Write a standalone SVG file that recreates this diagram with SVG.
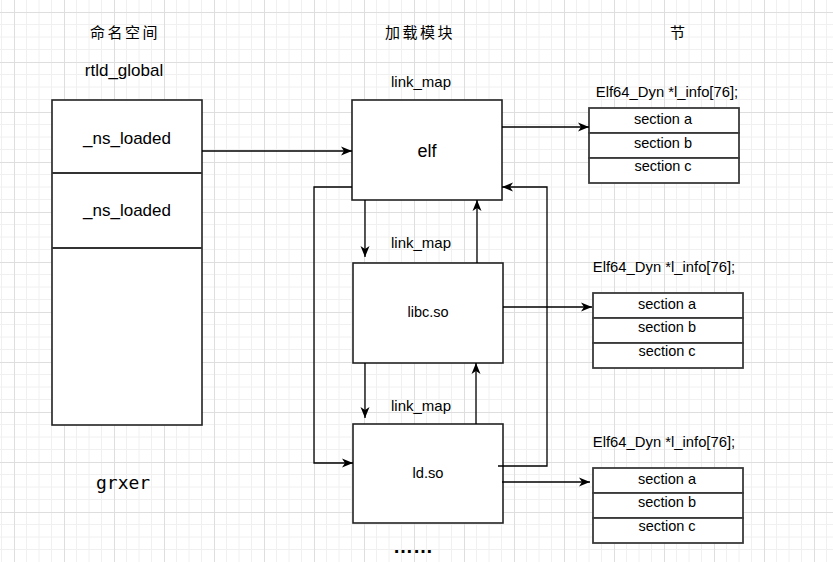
<svg xmlns="http://www.w3.org/2000/svg" width="833" height="562" viewBox="0 0 833 562">
<defs>
<pattern id="grid" x="14" y="12" width="50" height="50" patternUnits="userSpaceOnUse">
<path d="M12.5,0V50M25,0V50M37.5,0V50M0,12.5H50M0,25H50M0,37.5H50" stroke="#f0f0f0" stroke-width="1" fill="none"/>
<path d="M0.5,0V50M0,0.5H50" stroke="#dedede" stroke-width="1" fill="none"/>
</pattern>
<marker id="arr" markerWidth="12" markerHeight="11" refX="11" refY="5" orient="auto" markerUnits="userSpaceOnUse">
<path d="M0,0.5 L11,5 L0,9.5 L3,5 z" fill="#000"/>
</marker>
<style>
.box{fill:#fff;stroke:#222;stroke-width:1.6}
.sec{fill:#fff;stroke:#3a3a3a;stroke-width:1.8}
.t{font-family:"Liberation Sans",Arial,sans-serif;fill:#000;text-anchor:middle}
.cjk{font-family:"Noto Sans CJK SC",sans-serif;fill:#000;font-size:15px;letter-spacing:2.5px}
.c{fill:none;stroke:#000;stroke-width:1.3;marker-end:url(#arr)}
</style>
</defs>
<rect width="833" height="562" fill="#fff"/>
<rect width="833" height="562" fill="url(#grid)"/>

<g id="headers">
<text class="cjk" x="90" y="38">命名空间</text>
<text class="cjk" x="385" y="38">加载模块</text>
<text class="cjk" x="670" y="38">节</text>
</g>

<g id="rtld_global">
<text class="t" x="124" y="76" font-size="17">rtld_global</text>
<rect class="box" x="52" y="100" width="150" height="325"/>
<line x1="52" y1="173" x2="202" y2="173" stroke="#333" stroke-width="1.8"/>
<line x1="52" y1="248" x2="202" y2="248" stroke="#333" stroke-width="1.8"/>
<text class="t" x="127" y="144" font-size="17">_ns_loaded</text>
<text class="t" x="127" y="216" font-size="17">_ns_loaded</text>
</g>

<g id="grxer">
<text x="96" y="489" font-family="DejaVu Sans Mono,monospace" font-size="18" fill="#000">grxer</text>
</g>

<g id="elf">
<text class="t" x="421" y="87" font-size="15">link_map</text>
<rect class="box" x="352" y="100" width="150" height="100"/>
<text class="t" x="427" y="157" font-size="18">elf</text>
</g>

<g id="libc">
<text class="t" x="421" y="248" font-size="15">link_map</text>
<rect class="box" x="353" y="263" width="150" height="100"/>
<text class="t" x="428" y="317" font-size="14.5">libc.so</text>
</g>

<g id="ldso">
<text class="t" x="421" y="411" font-size="15">link_map</text>
<rect class="box" x="353" y="424" width="150" height="99"/>
<text class="t" x="428" y="478" font-size="14.7">ld.so</text>
</g>

<g id="more">
<text class="t" x="413" y="553" font-size="20" font-weight="bold">……</text>
</g>

<g id="sections1">
<text class="t" x="667" y="97" font-size="14.8">Elf64_Dyn *l_info[76];</text>
<rect class="sec" x="589" y="108" width="150" height="25"/>
<rect class="sec" x="589" y="133" width="150" height="25"/>
<rect class="sec" x="589" y="158" width="150" height="25"/>
<text class="t" x="663" y="124" font-size="14.5">section a</text>
<text class="t" x="663" y="148" font-size="14.5">section b</text>
<text class="t" x="663" y="171" font-size="14.5">section c</text>
</g>

<g id="sections2">
<text class="t" x="664" y="272" font-size="14.8">Elf64_Dyn *l_info[76];</text>
<rect class="sec" x="593" y="293" width="150" height="25"/>
<rect class="sec" x="593" y="318" width="150" height="25"/>
<rect class="sec" x="593" y="343" width="150" height="25"/>
<text class="t" x="667" y="309" font-size="14.5">section a</text>
<text class="t" x="667" y="332" font-size="14.5">section b</text>
<text class="t" x="667" y="356" font-size="14.5">section c</text>
</g>

<g id="sections3">
<text class="t" x="664" y="447" font-size="14.8">Elf64_Dyn *l_info[76];</text>
<rect class="sec" x="593" y="468" width="150" height="25"/>
<rect class="sec" x="593" y="493" width="150" height="25"/>
<rect class="sec" x="593" y="518" width="150" height="25"/>
<text class="t" x="667" y="484" font-size="14.5">section a</text>
<text class="t" x="667" y="507" font-size="14.5">section b</text>
<text class="t" x="667" y="531" font-size="14.5">section c</text>
</g>

<g id="connectors">
<path class="c" d="M202,151H352"/>
<path class="c" d="M502,127H589"/>
<path class="c" d="M365,200V257"/>
<path class="c" d="M477,263V200"/>
<path class="c" d="M365,363V418"/>
<path class="c" d="M476,424V363"/>
<path class="c" d="M352,187H314V463H353"/>
<path class="c" d="M498,466H547V187H502"/>
<path class="c" d="M503,307H592"/>
<path class="c" d="M502,482H590"/>
</g>
</svg>
